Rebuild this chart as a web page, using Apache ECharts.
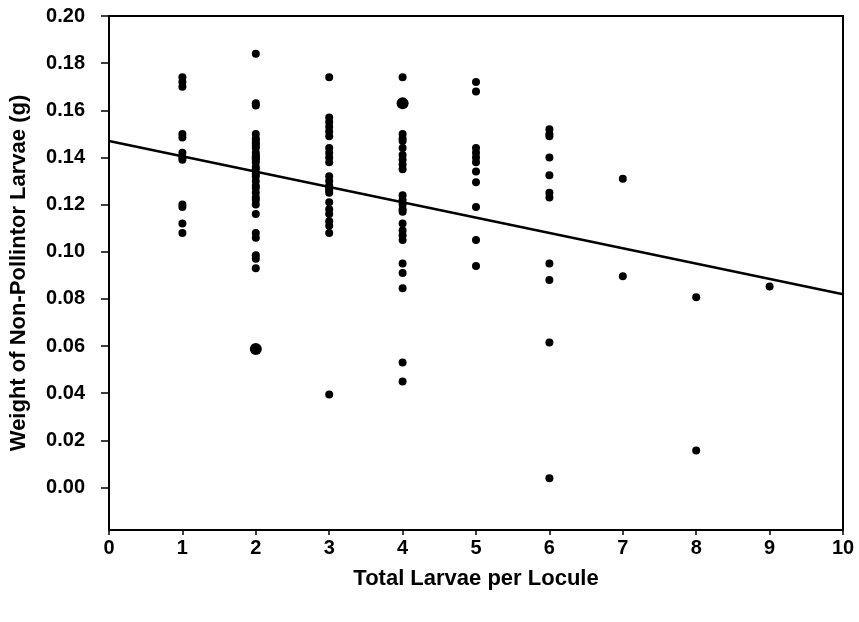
<!DOCTYPE html>
<html>
<head>
<meta charset="utf-8">
<script src="https://cdn.jsdelivr.net/npm/echarts@6/dist/echarts.min.js"></script>
<style>html,body{margin:0;padding:0;background:#fff}#c{width:859px;height:622px}</style>
</head>
<body>
<div id="c"></div>
<script>
// Total larvae per locule (x) and weight of non-pollinator larvae (g) (y)
const col1 = [0.174, 0.172, 0.170, 0.150, 0.1485, 0.142, 0.140, 0.139, 0.120, 0.119, 0.112, 0.108];
const col2 = [0.184, 0.163, 0.162, 0.150, 0.148, 0.147, 0.146, 0.145, 0.144, 0.142, 0.141, 0.140, 0.140, 0.139, 0.138, 0.136, 0.135, 0.133, 0.132, 0.130, 0.128, 0.127, 0.125, 0.123, 0.122, 0.120, 0.116, 0.108, 0.106, 0.0985, 0.097, 0.093];
const col3 = [0.174, 0.157, 0.155, 0.153, 0.151, 0.149, 0.144, 0.142, 0.140, 0.138, 0.132, 0.130, 0.128, 0.127, 0.126, 0.125, 0.121, 0.118, 0.116, 0.113, 0.111, 0.108, 0.0395];
const col4 = [0.174, 0.150, 0.148, 0.147, 0.144, 0.141, 0.139, 0.137, 0.135, 0.124, 0.122, 0.120, 0.118, 0.117, 0.112, 0.109, 0.107, 0.105, 0.095, 0.091, 0.0845, 0.053, 0.045];
const col5 = [0.172, 0.168, 0.144, 0.142, 0.140, 0.138, 0.134, 0.1295, 0.119, 0.105, 0.094];
const col6 = [0.152, 0.150, 0.149, 0.140, 0.1325, 0.125, 0.123, 0.095, 0.088, 0.0615, 0.004];
const col7 = [0.131, 0.0896];
const col8 = [0.0807, 0.0157];
const col9 = [0.0853];
// overlapping points drawn as larger dots
const bigX = [2, 4];
const bigY = [0.0588, 0.163];
// regression line end points
const lineX = [0, 10];
const lineY = [0.147, 0.082];
const yTicks = [0.00, 0.02, 0.04, 0.06, 0.08, 0.10, 0.12, 0.14, 0.16, 0.18, 0.20];
const xTicks = [0, 1, 2, 3, 4, 5, 6, 7, 8, 9, 10];

const cols = [col1, col2, col3, col4, col5, col6, col7, col8, col9];
const pts = [];
cols.forEach((c, i) => c.forEach(v => pts.push([i + 1, v])));
const bigPts = bigX.map((x, i) => [x, bigY[i]]);
const linePts = lineX.map((x, i) => [x, lineY[i]]);

const font = 'Liberation Sans, Arial, sans-serif';
const chart = echarts.init(document.getElementById('c'), null, {renderer: 'canvas'});
chart.setOption({
  animation: false,
  backgroundColor: '#fff',
  grid: {left: 109, top: 16, right: 16, bottom: 92, show: true, borderColor: '#000', borderWidth: 2,
    containLabel: false, outerBoundsMode: 'none'},
  xAxis: {
    type: 'value', min: 0, max: 10, interval: 1,
    name: 'Total Larvae per Locule', nameLocation: 'middle', nameGap: 38,
    nameTextStyle: {fontFamily: font, fontSize: 22, fontWeight: 'bold', color: '#000'},
    axisLine: {show: true, onZero: false, lineStyle: {color: '#000', width: 2}},
    axisTick: {show: true, length: 5, inside: false, lineStyle: {color: '#000', width: 1.5}, customValues: xTicks},
    axisLabel: {fontFamily: font, fontSize: 20, fontWeight: 'bold', color: '#000', margin: 8, customValues: xTicks},
    splitLine: {show: false}
  },
  yAxis: {
    type: 'value', min: -0.018, max: 0.20,
    name: 'Weight of Non-Pollintor Larvae (g)', nameLocation: 'middle', nameGap: 79, nameRotate: 90,
    nameTextStyle: {fontFamily: font, fontSize: 22, fontWeight: 'bold', color: '#000'},
    axisLine: {show: true, onZero: false, lineStyle: {color: '#000', width: 2}},
    axisTick: {show: true, length: 8, inside: false, lineStyle: {color: '#000', width: 1.5}, customValues: yTicks},
    axisLabel: {fontFamily: font, fontSize: 20, fontWeight: 'bold', color: '#000', margin: 24,
      customValues: yTicks, formatter: v => v.toFixed(2)},
    splitLine: {show: false}
  },
  series: [
    {type: 'line', data: linePts, symbol: 'none', lineStyle: {color: '#000', width: 2.5}, z: 2},
    {type: 'scatter', data: pts, symbol: 'circle', symbolSize: 8, itemStyle: {color: '#000', opacity: 1}, z: 3},
    {type: 'scatter', data: bigPts, symbol: 'circle', symbolSize: 12, itemStyle: {color: '#000', opacity: 1}, z: 3}
  ]
});
</script>
</body>
</html>
